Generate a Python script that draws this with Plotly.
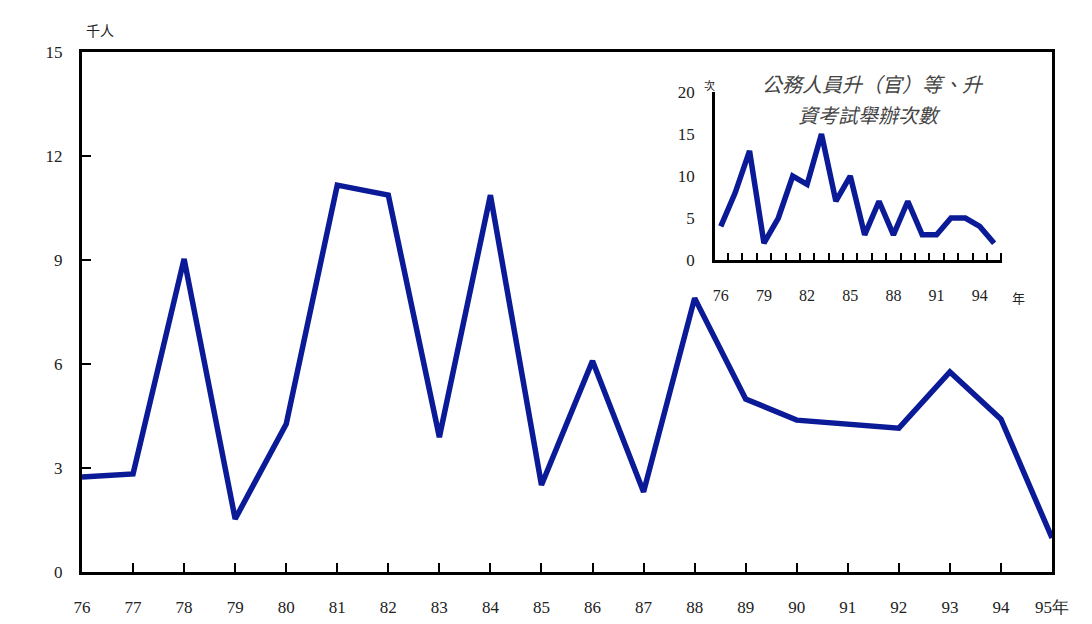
import plotly.graph_objects as go

years = list(range(76, 96))
# 公務人員升（官）等、升資考試 到考人數（千人）
persons = [2.74, 2.83, 9.03, 1.53, 4.27, 11.16, 10.87, 3.89, 10.87, 2.51,
           6.09, 2.31, 7.90, 4.99, 4.38, 4.27, 4.15, 5.77, 4.41, 0.98]
# 舉辦次數
exams = [4, 8, 13, 2, 5, 10, 9, 15, 7, 10, 3, 7, 3, 7, 3, 3, 5, 5, 4, 2]

main_ticks = [0, 3, 6, 9, 12, 15]
main_xlabels = [str(y) for y in years[:-1]] + ["95年"]
inset_xvals = [76, 79, 82, 85, 88, 91, 94]
inset_yvals = [0, 5, 10, 15, 20]

line_color = "#0b1a96"
serif = "Liberation Serif, DejaVu Serif, serif"
cjk = "Noto Sans CJK TC, sans-serif"

fig = go.Figure()
fig.add_trace(go.Scatter(x=years, y=persons, mode="lines",
                         line=dict(color=line_color, width=5.5),
                         cliponaxis=False, showlegend=False))
fig.add_trace(go.Scatter(x=years, y=exams, mode="lines", xaxis="x2", yaxis="y2",
                         line=dict(color=line_color, width=5.5),
                         cliponaxis=False, showlegend=False))

# page body has an 8px margin on every side; keep the whole page inside the window
fig.update_layout(
    width=1076, height=608,
    margin=dict(l=74, r=32, t=44, b=44),
    paper_bgcolor="white", plot_bgcolor="white",
    font=dict(family=serif, size=17, color="#222"),
    xaxis=dict(range=[76, 95], tickvals=years, ticktext=main_xlabels,
               ticks="inside", ticklen=9, tickwidth=2, tickcolor="black",
               showline=True, linecolor="black", linewidth=3, mirror=True,
               showgrid=False, zeroline=False, ticklabelstandoff=18,
               automargin=False),
    yaxis=dict(range=[0, 15], tickvals=main_ticks,
               ticks="inside", ticklen=9, tickwidth=2, tickcolor="black",
               showline=True, linecolor="black", linewidth=3, mirror=True,
               showgrid=False, zeroline=False, ticklabelstandoff=13,
               automargin=False),
    xaxis2=dict(domain=[0.6526, 0.9485], anchor="y2", range=[75.6, 95.55],
                tickvals=inset_xvals, ticks="",
                minor=dict(ticks="inside", tick0=76.5, dtick=1, ticklen=7,
                           tickwidth=2, tickcolor="black"),
                showline=True, linecolor="black", linewidth=2.5,
                showgrid=False, zeroline=False, ticklabelstandoff=19,
                tickfont=dict(size=16), automargin=False),
    yaxis2=dict(domain=[0.6, 0.923], anchor="x2", range=[0, 20],
                tickvals=inset_yvals, ticks="",
                showline=True, linecolor="black", linewidth=2.5,
                showgrid=False, zeroline=False, ticklabelstandoff=14,
                tickfont=dict(size=17), automargin=False),
    annotations=[
        dict(text="千人", x=0.0186, y=1.042, xref="paper", yref="paper",
             xanchor="center", yanchor="middle", showarrow=False,
             font=dict(family=cjk, size=14, color="#222")),
        dict(text="次", x=0.647, y=0.937, xref="paper", yref="paper",
             xanchor="center", yanchor="middle", showarrow=False,
             font=dict(family=cjk, size=11, color="#222")),
        dict(text="年", x=0.965, y=0.527, xref="paper", yref="paper",
             xanchor="center", yanchor="middle", showarrow=False,
             font=dict(family=cjk, size=13, color="#222")),
        dict(text="<i>公務人員升（官）等、升</i>",
             x=0.815, y=0.94, xref="paper", yref="paper",
             xanchor="center", yanchor="middle", showarrow=False,
             font=dict(family=cjk, size=20, color="#444")),
        dict(text="<i>資考試舉辦次數</i>",
             x=0.812, y=0.879, xref="paper", yref="paper",
             xanchor="center", yanchor="middle", showarrow=False,
             font=dict(family=cjk, size=20, color="#444")),
    ],
)

fig.write_html("out.html")
